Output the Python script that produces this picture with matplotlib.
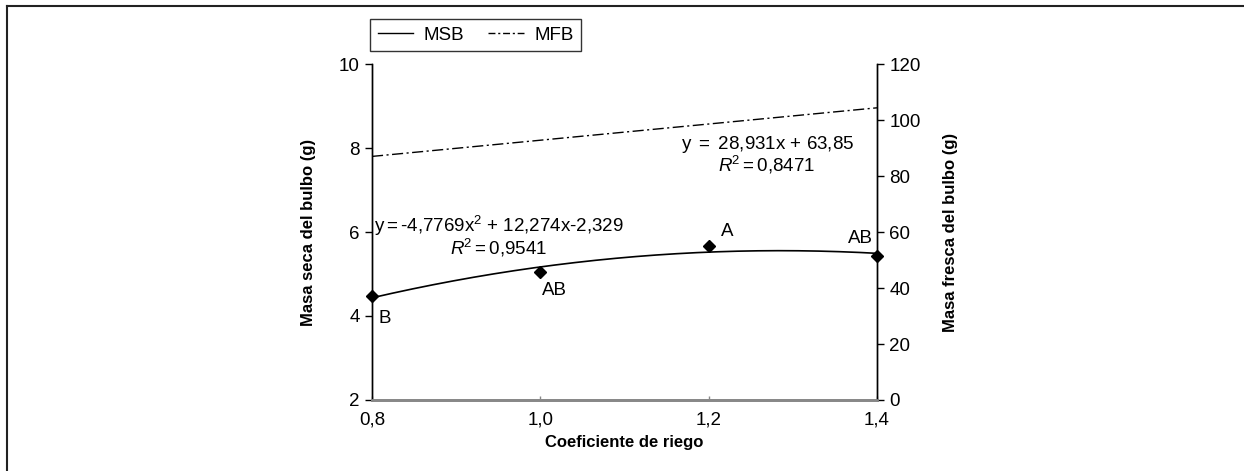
import matplotlib
matplotlib.use("Agg")
import matplotlib.pyplot as plt
from matplotlib.lines import Line2D
import numpy as np

# data
coef_riego = [0.8, 1.0, 1.2, 1.4]
msb = [4.47, 5.04, 5.67, 5.44]
msb_letters = ["B", "AB", "A", "AB"]
# trend lines as printed on the chart
msb_poly = [-4.7769, 12.274, -2.329]
mfb_poly = [28.931, 63.85]
x_ticks = [0.8, 1.0, 1.2, 1.4]
x_ticklabels = ["0,8", "1,0", "1,2", "1,4"]
left_ticks = [2, 4, 6, 8, 10]
right_ticks = [0, 20, 40, 60, 80, 100, 120]

FONT = ["Liberation Sans", "DejaVu Sans"]
plt.rcParams['font.family'] = FONT
plt.rcParams['mathtext.fontset'] = 'custom'
plt.rcParams['mathtext.rm'] = 'Liberation Sans'
plt.rcParams['mathtext.it'] = 'Liberation Sans:italic'

fig = plt.figure(figsize=(12.44, 4.71), dpi=100)
ax = fig.add_axes([372 / 1244, 1 - 400 / 471, (877 - 372) / 1244, (400 - 64) / 471])
ax2 = ax.twinx()

# frame around the figure (top and left edges only visible)
fig.add_artist(Line2D([7 / 1244, 1], [1 - 6 / 471, 1 - 6 / 471], color="#222222", lw=1.5))
fig.add_artist(Line2D([7 / 1244, 7 / 1244], [0, 1 - 6 / 471], color="#222222", lw=1.5))

xs = np.linspace(0.8, 1.4, 200)
ax.plot(xs, np.polyval(msb_poly, xs), color="black", lw=1.2)
ax.plot(coef_riego, msb, linestyle="none", marker="D", color="black", ms=6.5, clip_on=False, zorder=5)
ax2.plot(xs, np.polyval(mfb_poly, xs), color="black", lw=1.0, linestyle=(0, (8, 2.5, 1.5, 2.5)))

ax.set_xlim(0.8, 1.4)
ax.set_ylim(2, 10)
ax2.set_ylim(0, 120)
ax.set_xticks(x_ticks)
ax.set_xticklabels(x_ticklabels)
ax.set_yticks(left_ticks)
ax2.set_yticks(right_ticks)

for a in (ax, ax2):
    a.spines["top"].set_visible(False)
    a.spines["left"].set_linewidth(1.0)
    a.spines["right"].set_linewidth(1.0)
    a.spines["bottom"].set_color("#888888")
    a.spines["bottom"].set_linewidth(2.0)
ax.tick_params(axis="y", direction="out", length=5, width=1, labelsize=13.5, pad=4)
ax2.tick_params(axis="y", direction="out", length=5, width=1, labelsize=13.5, pad=4)
ax.tick_params(axis="x", direction="in", length=3, width=1, color="#888888", labelsize=13.5, pad=8)

ax.set_xlabel("Coeficiente de riego", fontsize=12, fontweight="bold", labelpad=5)
ax.set_ylabel("Masa seca del bulbo (g)", fontsize=12, fontweight="bold", labelpad=16)
ax2.set_ylabel("Masa fresca del bulbo (g)", fontsize=12, fontweight="bold", labelpad=16)

# letters of significance
ax.annotate(msb_letters[0], (coef_riego[0], msb[0]), xytext=(9, -16), textcoords="offset points",
            fontsize=13.5, ha="center", va="center")
ax.annotate(msb_letters[1], (coef_riego[1], msb[1]), xytext=(10, -13), textcoords="offset points",
            fontsize=13.5, ha="center", va="center")
ax.annotate(msb_letters[2], (coef_riego[2], msb[2]), xytext=(13, 10), textcoords="offset points",
            fontsize=13.5, ha="center", va="center")
ax.annotate(msb_letters[3], (coef_riego[3], msb[3]), xytext=(-12, 12), textcoords="offset points",
            fontsize=13.5, ha="center", va="center")

# trend line equations
ax.text(0.8 + (499 - 372) / 505 * 0.6, 6.14, r"y$=$-4,7769x$^2$ $+$ 12,274x-2,329",
        fontsize=13.5, ha="center", va="center")
ax.text(0.8 + (499 - 372) / 505 * 0.6, 5.62, r"$\it{R}$$^2$$=$0,9541",
        fontsize=13.5, ha="center", va="center")
ax.text(0.8 + (768 - 372) / 505 * 0.6, 8.08, r"y $=$ 28,931x $+$ 63,85",
        fontsize=13.5, ha="center", va="center")
ax.text(0.8 + (767 - 372) / 505 * 0.6, 7.60, r"$\it{R}$$^2$$=$0,8471",
        fontsize=13.5, ha="center", va="center")

handles = [Line2D([], [], color="black", lw=1.0),
           Line2D([], [], color="black", lw=1.0, linestyle=(0, (5, 2, 1.5, 2)))]
leg = fig.legend(handles, ["MSB", "MFB"], ncol=2, loc="upper left",
                 bbox_to_anchor=(370 / 1244, 1 - 19 / 471), frameon=True, fancybox=False,
                 edgecolor="black", fontsize=13.5, handlelength=1.9, columnspacing=1.3,
                 borderpad=0.4, handletextpad=0.55, borderaxespad=0)
leg.get_frame().set_linewidth(1.0)

fig.savefig("out.png", dpi=100)
